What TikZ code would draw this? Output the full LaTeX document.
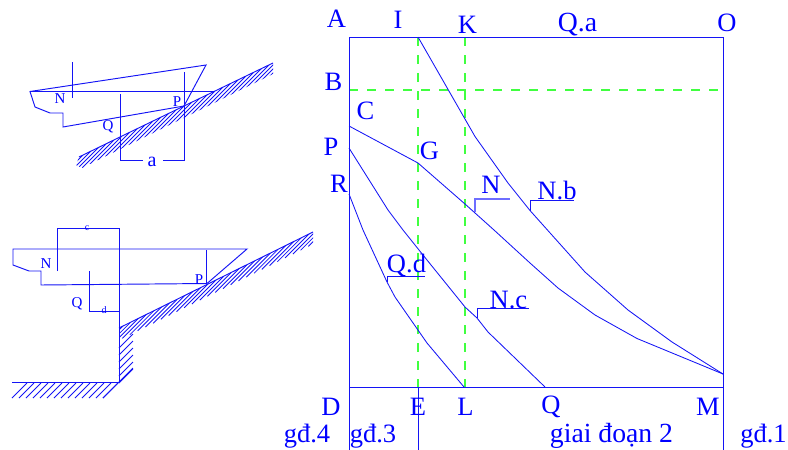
\documentclass[tikz,border=0pt]{standalone}
\usepackage{fontspec}
\setmainfont{Liberation Serif}
\usetikzlibrary{calc}
\definecolor{lineblue}{RGB}{20,20,245}
\definecolor{dashgreen}{RGB}{64,255,64}
\definecolor{softblue}{RGB}{110,110,255}
\tikzset{
  ink/.style={draw=lineblue,line width=0.95pt},
  thin ink/.style={draw=lineblue,line width=0.85pt},
  hatch/.style={draw=lineblue,line width=0.85pt},
  guide/.style={draw=dashgreen,line width=1.3pt,dash pattern=on 9pt off 9pt},
  big/.style={text=blue,font=\fontsize{26.5}{27}\selectfont,inner sep=0pt},
  wide/.style={text=blue,font=\fontsize{27.7}{28}\selectfont,inner sep=0pt},
  mid/.style={text=blue,font=\fontsize{15}{15}\selectfont,inner sep=0pt},
  tiny/.style={text=blue,font=\fontsize{10}{10}\selectfont,inner sep=0pt},
  adim/.style={text=blue,font=\fontsize{20}{20}\selectfont,inner sep=0pt},
}
\begin{document}
\begin{tikzpicture}[x=1pt,y=-1pt]
\useasboundingbox (0,0) rectangle (788,450);
% ---------- upper ship
\draw[ink] (30,91.5) -- (206,65) -- (184,106) -- (63,127) -- (63,113) -- (50,113) -- (35,107) -- cycle;
\draw[ink] (30,91.5) -- (214,91.5);
\draw[ink] (72,62) -- (72,98);
\draw[ink] (120,94) -- (120,160.5) -- (143,160.5);
\draw[ink] (163,160.5) -- (184,160.5) -- (184,72);
\coordinate (s1) at (79,157);
\coordinate (s2) at (273,63);
\draw[ink] (s1) -- (120,137) -- (184,106) -- (214,91.5) -- (s2);
\begin{scope}
  \clip (s1) -- (s2) -- (273,74) -- (82,168) -- (76,165) -- cycle;
  \foreach \t in {0.02,0.06,...,1.16}
    \draw[hatch] ($(s1)!\t!(s2)$) -- ++(-24,24);
\end{scope}
\node[mid] (n1) at (60,99) {N};
\node[mid] (q1) at (108,127) {Q};
\node[mid] (p1) at (177,102) {P};
\node[adim] (a1) at (152,162) {a};
% ---------- lower ship
\draw[ink] (13,249) -- (247,249) -- (207,283.5) -- (41,285) -- (41,271) -- (29,271) -- (13,265) -- cycle;
\draw[ink] (57.5,271) -- (57.5,228.5) -- (119,228.5) -- (119,382.5) -- (12,382.5);
\draw[ink] (89,271) -- (89,311) -- (119,311);
\draw[ink] (206,250) -- (206,283);
\coordinate (t1) at (119,328);
\coordinate (t2) at (313,232);
\draw[ink] (t1) -- (t2);
\begin{scope}
  \clip (t1) -- (t2) -- (313,245) -- (139,331) -- (119,340) -- cycle;
  \foreach \t in {0.02,0.06,...,1.16}
    \draw[hatch] ($(t1)!\t!(t2)$) -- ++(-24,24);
\end{scope}
\foreach \y in {340,347,...,375}
  \draw[hatch] (133,\y-6) -- (119,\y+8);
\foreach \x in {27,34,...,118}
  \draw[hatch] (\x,383) -- (\x-15,398);
\draw[hatch] (133,368) -- (103,398);
\node[tiny] (c2) at (87,228) {c};
\node[tiny] (d2) at (104,310) {d};
\node[mid] (n2) at (46,263.5) {N};
\node[mid] (q2) at (77,303.5) {Q};
\node[mid] (p2) at (199,280) {P};
% ---------- main chart
\draw[guide] (418,37) -- (418,387);
\draw[guide] (465,37) -- (465,387);
\draw[guide] (349,90) -- (723,90);
\draw[ink] (349,450) -- (349,37) -- (723,37) -- (723,450);
\draw[ink] (349,387) -- (723,387);
\draw[ink] (418,387) -- (418,450);
\draw[thin ink] (418,37) -- (475,136.5) -- (508,183) -- (530,210.5) -- (585,272) -- (628,310) -- (672,342) -- (723,374);
\draw[thin ink] (349,126) -- (418,163) -- (465,204) -- (494,230) -- (530,263) -- (558,288) -- (595,315) -- (637,338.5) -- (723,374);
\draw[thin ink] (349,148) -- (388,210) -- (403,230) -- (427,260) -- (465,307) -- (477,318) -- (488,332) -- (545,387);
\draw[thin ink] (349,194) -- (363,230) -- (387,282) -- (395,297) -- (427,343) -- (464,387);
% leaders
\draw[draw=softblue,line width=1.4pt] (475,212) -- (475,199) -- (510,199);
\draw[thin ink] (530,210.5) -- (530,200) -- (574,200);
\draw[thin ink] (387,282) -- (387,276) -- (425,276);
\draw[thin ink] (477,318) -- (477,308.5) -- (529,308.5);
% labels
\node[big] (A) at (336.5,19) {A};
\node[big] (I) at (398,19.5) {I};
\node[big] (K) at (467.5,25) {K};
\node[wide] (Qa) at (577.5,25) {Q.a};
\node[big] (O) at (727,23) {O};
\node[big] (B) at (333.5,82) {B};
\node[big] (C) at (365.5,111) {C};
\node[big] (Pp) at (331,147) {P};
\node[big] (G) at (429.5,151) {G};
\node[big] (R) at (339,184) {R};
\node[big] (Nn) at (491,185) {N};
\node[big] (Nb) at (557,190) {N.b};
\node[big] (Qd) at (406.5,265) {Q.d};
\node[big] (Nc) at (508.5,300) {N.c};
\node[big] (D) at (331,407) {D};
\node[big] (E) at (418,407) {E};
\node[big] (L) at (465.5,407) {L};
\node[big] (Q) at (551,407) {Q};
\node[big] (M) at (708,407) {M};
\node[big] (g4) at (307,436) {gđ.4};
\node[big] (g3) at (373,436) {gđ.3};
\node[wide] (g2) at (611.5,436) {giai đoạn 2};
\node[big] (g1) at (763.5,436) {gđ.1};
\end{tikzpicture}
\end{document}
